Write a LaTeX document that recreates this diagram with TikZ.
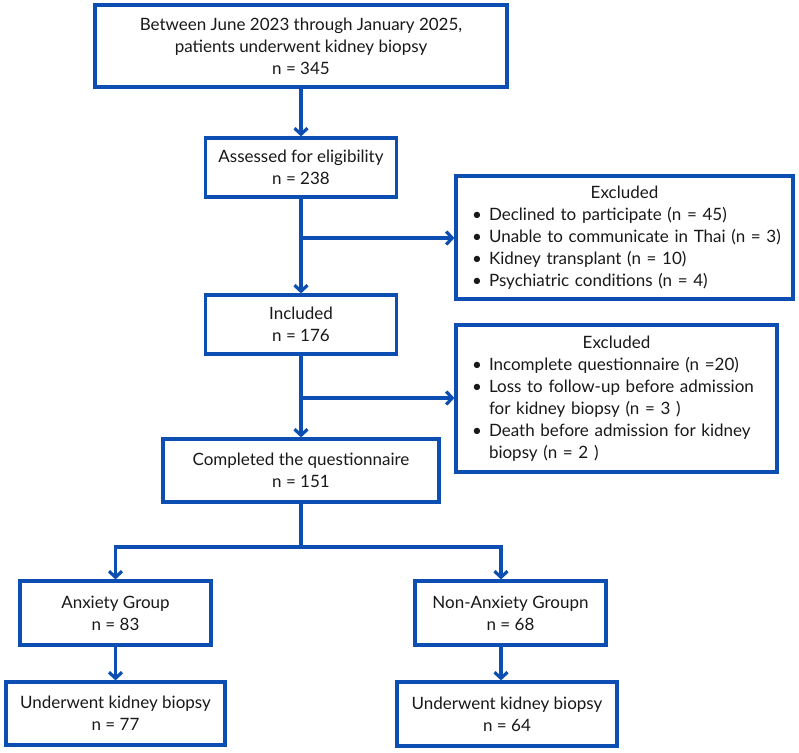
\documentclass[tikz,border=0pt]{standalone}
\usepackage{fontspec}
\setmainfont{Lato}
\usetikzlibrary{arrows.meta}
\definecolor{flowblue}{RGB}{12,78,178}
\definecolor{flowtext}{RGB}{25,25,25}
\newcommand\bul{\makebox[17pt][l]{\textbullet}}
\tikzset{
  frame/.style={draw=flowblue, line width=3.2pt, fill=white, inner sep=0pt,
    text=flowtext, font=\fontsize{17}{22}\selectfont},
  box/.style={frame, align=center},
  exclbox/.style={frame, align=left, inner xsep=11pt},
  line/.style={flowblue, line width=3.2pt},
  arr/.style={line, -{Straight Barb[length=6pt,width=13pt]}}
}
\begin{document}
\begin{tikzpicture}[x=1pt,y=1pt]
    \useasboundingbox (0,0) rectangle (799,-752);
    % Screening
    \node[box, minimum width=412pt, minimum height=82pt] (start) at (301,-46)
      {Between June 2023 through January 2025,\\patients underwent kidney biopsy\\n = 345};
    \node[box, minimum width=191pt, minimum height=59pt] (assess) at (301,-167.5)
      {Assessed for eligibility\\n = 238};
    \node[exclbox, text width=315pt, minimum height=123pt] (exclA) at (624.5,-237.5)
      {{\centering Excluded\par}
       \hspace*{5pt}\bul Declined to participate (n = 45)\\
       \hspace*{5pt}\bul Unable to communicate in Thai (n = 3)\\
       \hspace*{5pt}\bul Kidney transplant (n = 10)\\
       \hspace*{5pt}\bul Psychiatric conditions (n = 4)};
    \node[box, minimum width=191pt, minimum height=59pt] (incl) at (301,-324.5)
      {Included\\n = 176};
    \node[exclbox, text width=299pt, minimum height=147pt] (exclB) at (616.5,-398.5)
      {{\centering Excluded\par}
       \hspace*{5pt}\bul Incomplete questionnaire (n =20)\\
       \hspace*{5pt}\bul Loss to follow-up before admission\\
       \hspace*{22pt}for kidney biopsy (n = 3 )\\
       \hspace*{5pt}\bul Death before admission for kidney\\
       \hspace*{22pt}biopsy (n = 2 )};
    \node[box, minimum width=276pt, minimum height=63pt] (done) at (301,-470.5)
      {Completed the questionnaire\\n = 151};
    % Groups
    \node[box, minimum width=191pt, minimum height=64pt] (anx) at (115.5,-613)
      {Anxiety Group\\n = 83};
    \node[box, minimum width=191pt, minimum height=64pt] (nonanx) at (510.5,-613)
      {Non-Anxiety Groupn\\n = 68};
    \node[box, minimum width=219pt, minimum height=63pt] (bioA) at (115.5,-713.5)
      {Underwent kidney biopsy\\n = 77};
    \node[box, minimum width=220pt, minimum height=64pt] (bioB) at (507,-714)
      {Underwent kidney biopsy\\n = 64};
    % Connectors
    \coordinate (j1) at (301,-238);
    \coordinate (j2) at (301,-398);
    \coordinate (j3) at (301,-547);
    \draw[arr] (start) -- (assess);
    \draw[arr] (assess) -- (incl);
    \draw[arr] (j1) -- (j1 -| exclA.west);
    \draw[arr] (incl) -- (done);
    \draw[arr] (j2) -- (j2 -| exclB.west);
    \draw[line] (done) -- (j3);
    \draw[arr] (j3) -| (anx.north);
    \draw[arr] (j3) -| ([xshift=-9.5pt]nonanx.north);
    \draw[arr] (anx) -- (bioA);
    \draw[arr] ([xshift=-9.5pt]nonanx.south) -- ([xshift=-9.5pt]nonanx.south |- bioB.north);
\end{tikzpicture}
\end{document}
